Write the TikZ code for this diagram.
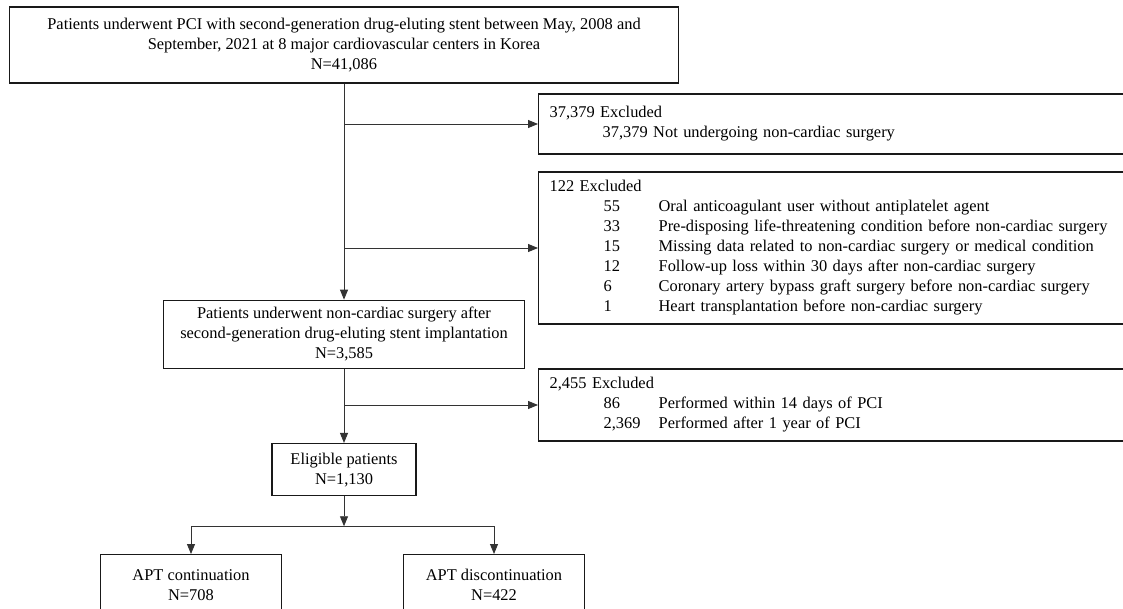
\documentclass[tikz,border=0pt]{standalone}
\usepackage{fontspec}
\setmainfont{Liberation Serif}
\usetikzlibrary{arrows.meta,positioning}
\newcommand{\exrow}[2]{\hspace*{54pt}\makebox[55pt][l]{#1}#2}
\tikzset{
    box/.style={
        rectangle,
        draw=black!90,
        line width=1.3pt,
        align=center,
        inner sep=0pt
    },
    exbox/.style={
        rectangle,
        draw=black!90,
        line width=1.3pt,
        anchor=west,
        align=left,
        text width=580pt,
        inner xsep=11pt,
        inner ysep=0pt
    },
}

\begin{document}
\begin{tikzpicture}[
    x=1pt, y=-1pt,
    font=\fontsize{16.4}{20}\selectfont,
    >={Triangle[length=10pt,width=8pt]},
    line/.style={draw=black!80, line width=0.9pt, ->}
]
\useasboundingbox[fill=white] (0,0) rectangle (1123,609);
\clip (0,0) rectangle (1123,609);

\node[box, minimum width=669pt, minimum height=76pt] (enrolled) at (344,45)
    {Patients underwent PCI with second-generation drug-eluting stent between May, 2008 and\\
     September, 2021 at 8 major cardiovascular centers in Korea\\N=41,086};
\node[box, minimum width=361pt, minimum height=68pt, below=216pt of enrolled] (surgery)
    {Patients underwent non-cardiac surgery after\\
     second-generation drug-eluting stent implantation\\N=3,585};
\node[box, minimum width=144pt, minimum height=52pt, below=74pt of surgery] (eligible)
    {Eligible patients\\N=1,130};

\node[exbox, minimum height=60pt] (excl1) at (538,124)
    {37,379 Excluded\\
     \hspace*{53pt}37,379 Not undergoing non-cardiac surgery};
\node[exbox, minimum height=152pt] (excl2) at (538,248)
    {122 Excluded\\
     \exrow{55}{Oral anticoagulant user without antiplatelet agent}\\
     \exrow{33}{Pre-disposing life-threatening condition before non-cardiac surgery}\\
     \exrow{15}{Missing data related to non-cardiac surgery or medical condition}\\
     \exrow{12}{Follow-up loss within 30 days after non-cardiac surgery}\\
     \exrow{6}{Coronary artery bypass graft surgery before non-cardiac surgery}\\
     \exrow{1}{Heart transplantation before non-cardiac surgery}};
\node[exbox, minimum height=72pt] (excl3) at (538,405)
    {2,455 Excluded\\
     \exrow{86}{Performed within 14 days of PCI}\\
     \exrow{2,369}{Performed after 1 year of PCI}};

\node[box, minimum width=181pt, minimum height=60pt, anchor=north] (cont) at (191,554)
    {APT continuation\\N=708};
\node[box, minimum width=181pt, minimum height=60pt, anchor=north] (discont) at (494,554)
    {APT discontinuation\\N=422};

\coordinate (b1) at (enrolled.south |- excl1.west);
\coordinate (b2) at (enrolled.south |- excl2.west);
\coordinate (b3) at (surgery.south |- excl3.west);
\coordinate[below=30pt of eligible] (split);

\draw[line] (enrolled) -- (surgery);
\draw[line] (b1) -- (excl1.west);
\draw[line] (b2) -- (excl2.west);
\draw[line] (surgery) -- (eligible);
\draw[line] (b3) -- (excl3.west);
\draw[line] (eligible) -- (split);
\draw[line] (split) -| (cont);
\draw[line] (split) -| (discont);

\end{tikzpicture}
\end{document}
